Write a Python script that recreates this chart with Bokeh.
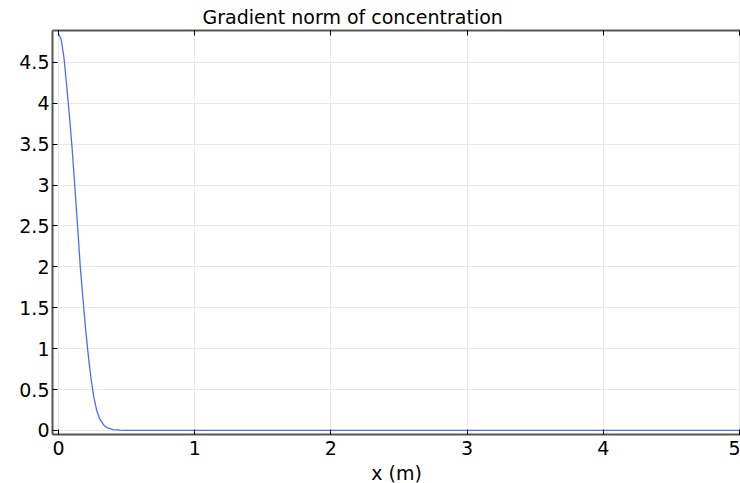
from bokeh.plotting import figure
from bokeh.models import Range1d, LinearAxis, FixedTicker
from bokeh.embed import file_html
from bokeh.resources import INLINE

x_vals = [0.0, 0.02, 0.04, 0.06, 0.08, 0.10, 0.12, 0.14, 0.16, 0.18, 0.20, 0.22,
          0.24, 0.26, 0.28, 0.30, 0.33, 0.36, 0.40, 0.45, 0.5, 1.0, 2.0, 3.0, 4.0, 5.0]
grad_norm = [4.85, 4.78, 4.56, 4.22, 3.85, 3.45, 2.98, 2.5, 2.0, 1.6, 1.22, 0.9,
             0.62, 0.4, 0.25, 0.15, 0.07, 0.03, 0.01, 0.003, 0.0, 0.0, 0.0, 0.0, 0.0, 0.0]
x_ticks = [0, 1, 2, 3, 4, 5]
y_ticks = [0, 0.5, 1, 1.5, 2, 2.5, 3, 3.5, 4, 4.5]
title_text = "Gradient norm of concentration"
x_label_text = "x (m)"

FONT = "DejaVu Sans"
FS = "19px"

p = figure(width=740, height=490, output_backend="svg", toolbar_location=None,
           x_range=Range1d(-0.044, 5.008), y_range=Range1d(-0.05, 4.89),
           min_border_left=52, min_border_right=0, min_border_top=30, min_border_bottom=56)

p.title.text = title_text
p.title.align = "left"
p.title.offset = 150
p.title.text_font = FONT
p.title.text_font_size = FS
p.title.text_font_style = "normal"
p.title.text_color = "black"
p.title.standoff = 5

p.line(x_vals, grad_norm, line_color="#4a6cf7", line_width=1.3)

for ax in p.xaxis:
    ax.ticker = FixedTicker(ticks=x_ticks)
    ax.axis_label = x_label_text
    ax.major_label_standoff = 6
    ax.axis_label_standoff = 4
for ax in p.yaxis:
    ax.ticker = FixedTicker(ticks=y_ticks)
    ax.major_label_standoff = 3

for ax in p.xaxis + p.yaxis:
    ax.major_label_text_font = FONT
    ax.major_label_text_font_size = FS
    ax.major_label_text_color = "black"
    ax.axis_label_text_font = FONT
    ax.axis_label_text_font_size = FS
    ax.axis_label_text_font_style = "normal"
    ax.axis_label_text_color = "black"
    ax.axis_line_color = "#555555"
    ax.axis_line_width = 2
    ax.major_tick_line_color = "black"
    ax.major_tick_in = 5
    ax.major_tick_out = 0
    ax.minor_tick_line_color = None

top_axis = LinearAxis(ticker=FixedTicker(ticks=x_ticks), major_label_text_font_size="0px",
                      axis_line_color="#555555", axis_line_width=2, major_tick_in=5, major_tick_out=0,
                      major_tick_line_color="black", minor_tick_line_color=None,
                      major_label_standoff=0)
top_axis.major_label_overrides = {t: "" for t in x_ticks}
p.add_layout(top_axis, "above")

p.xgrid.grid_line_color = "#e8e8e8"
p.ygrid.grid_line_color = "#e8e8e8"
p.xgrid.ticker = FixedTicker(ticks=x_ticks)
p.ygrid.ticker = FixedTicker(ticks=y_ticks)

p.outline_line_color = None
p.background_fill_color = "white"
p.border_fill_color = "white"

open("out.html", "w").write(file_html(p, INLINE))
